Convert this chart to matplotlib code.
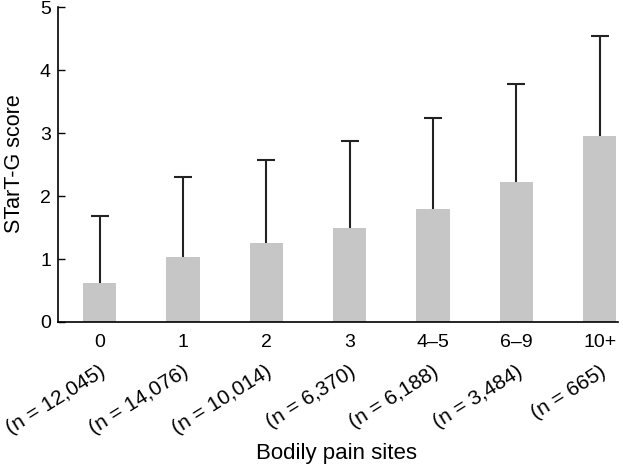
import matplotlib
matplotlib.use("Agg")
import matplotlib.pyplot as plt
import matplotlib.transforms as mtransforms

categories = ["0", "1", "2", "3", "4\u20135", "6\u20139", "10+"]
n_labels = ["(n = 12,045)", "(n = 14,076)", "(n = 10,014)", "(n = 6,370)",
            "(n = 6,188)", "(n = 3,484)", "(n = 665)"]
means = [0.62, 1.03, 1.26, 1.50, 1.79, 2.22, 2.96]
sds = [1.06, 1.28, 1.32, 1.37, 1.45, 1.56, 1.58]

plt.rcParams['font.family'] = ['Liberation Sans', 'DejaVu Sans']

fig = plt.figure(figsize=(6.23, 4.68), dpi=100)
ax = fig.add_axes([0.093, 0.312, 0.899, 0.672])

x = list(range(len(categories)))
ax.bar(x, means, width=0.4, color="#c6c6c6", zorder=2)
_, caps, _ = ax.errorbar(x, means, yerr=[[0]*len(sds), sds], fmt="none", ecolor="#222222",
                         elinewidth=1.5, capsize=6.5, capthick=1.5, zorder=1)
caps[0].set_visible(False)

ax.set_xlim(-0.5, 6.22)
ax.set_ylim(0, 5)
ax.set_yticks([0, 1, 2, 3, 4, 5])
ax.tick_params(axis='y', direction='in', length=5, width=1, labelsize=14, pad=5)
ax.set_xticks(x)
ax.set_xticklabels(categories)
ax.tick_params(axis='x', length=0, labelsize=14, pad=9)
for s in ["top", "right"]:
    ax.spines[s].set_visible(False)
for s in ["left", "bottom"]:
    ax.spines[s].set_linewidth(1.2)

trans = mtransforms.blended_transform_factory(ax.transData, ax.transAxes)
for xi, lab in zip(x, n_labels):
    ax.text(xi - 0.01, -0.128, lab, transform=trans, rotation=32,
            rotation_mode='anchor', ha='right', va='top', fontsize=15)

fig.text(15 / 623, 0.65, "STarT-G score", rotation=90, ha='center', va='center', fontsize=15.5)
fig.text(0.54, 0.032, "Bodily pain sites", ha='center', va='center', fontsize=16)

fig.savefig("out.png", dpi=100)
